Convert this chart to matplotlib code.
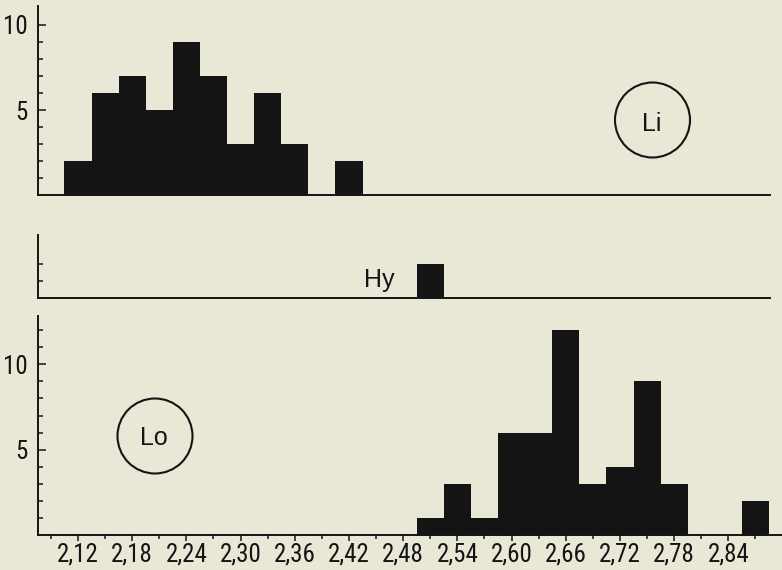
import matplotlib
matplotlib.use("Agg")
import matplotlib.pyplot as plt
from matplotlib import font_manager as fm
from matplotlib.patches import Ellipse
from matplotlib.ticker import FixedLocator

# ---------------- data ----------------
li_centers = [2.12, 2.15, 2.18, 2.21, 2.24, 2.27, 2.30, 2.33, 2.36, 2.39, 2.42]
li_counts = [2, 6, 7, 5, 9, 7, 3, 6, 3, 0, 2]

hy_centers = [2.51]
hy_counts = [2]

lo_centers = [2.51, 2.54, 2.57, 2.60, 2.63, 2.66, 2.69, 2.72, 2.75, 2.78, 2.81, 2.84, 2.87]
lo_counts = [1, 3, 1, 6, 6, 12, 3, 4, 9, 3, 0, 0, 2]

bin_width = 0.03
x_ticks_major = [2.12, 2.18, 2.24, 2.30, 2.36, 2.42, 2.48, 2.54, 2.60, 2.66, 2.72, 2.78, 2.84]
x_tick_labels = ["2,12", "2,18", "2,24", "2,30", "2,36", "2,42", "2,48", "2,54",
                 "2,60", "2,66", "2,72", "2,78", "2,84"]
x_ticks_minor = [2.09, 2.15, 2.21, 2.27, 2.33, 2.39, 2.45, 2.51, 2.57, 2.63, 2.69,
                 2.75, 2.81, 2.87]
y_major = [5, 10]
y_minor_li = [1, 2, 3, 4, 6, 7, 8, 9]
y_minor_hy = [1, 2]
y_minor_lo = [1, 2, 3, 4, 6, 7, 8, 9, 11, 12]

# ---------------- fonts ----------------
names = {f.name for f in fm.fontManager.ttflist}
def pick(cands):
    for c in cands:
        if c in names:
            return c
    return "DejaVu Sans"
num_font = pick(["Liberation Sans Narrow", "Roboto Condensed", "Open Sans Condensed", "DejaVu Sans"])
txt_font = pick(["Liberation Sans", "DejaVu Sans"])

W, H = 782, 570
BG = "#e9e7d5"
INK = "#141414"
NUM_SIZE = 18
TXT_SIZE = 18
fig = plt.figure(figsize=(W / 100, H / 100), dpi=100, facecolor=BG)

x_left, x_right = 2.0757, 2.8994
x_base_end = 2.886

def px_axes(top_px, bottom_px):
    return fig.add_axes([38 / W, (H - bottom_px) / H, (W - 38) / W, (bottom_px - top_px) / H])

def style(ax, ymax, majors, minors, base_end=None):
    ax.set_facecolor("none")
    ax.set_xlim(x_left, x_right)
    ax.set_ylim(0, ymax)
    for s in ("top", "right"):
        ax.spines[s].set_visible(False)
    for s in ("left", "bottom"):
        ax.spines[s].set_linewidth(1.4)
        ax.spines[s].set_color(INK)
    if base_end is not None:
        ax.spines["bottom"].set_bounds(x_left, base_end)
    ax.yaxis.set_major_locator(FixedLocator(majors))
    ax.yaxis.set_minor_locator(FixedLocator(minors))
    ax.tick_params(axis="y", which="major", direction="in", length=5.5, width=1.1,
                   color=INK, pad=7.5, labelsize=NUM_SIZE, labelcolor=INK)
    ax.tick_params(axis="y", which="minor", direction="in", length=3.3, width=1.1, color=INK)

# top panel (Li)
ax1 = px_axes(6, 195)
ax1.bar(li_centers, li_counts, width=bin_width, color=INK, linewidth=0, align="center")
style(ax1, 189 / 17.0, y_major, y_minor_li, x_base_end)
ax1.set_xticks([])
ax1.set_yticklabels(["5", "10"], fontfamily=num_font)

# middle panel (Hy)
ax2 = px_axes(235, 297.5)
ax2.bar(hy_centers, hy_counts, width=bin_width, color=INK, linewidth=0, align="center")
style(ax2, 62.5 / 17.0, [], y_minor_hy, x_base_end)
ax2.set_xticks([])

# bottom panel (Lo)
ax3 = px_axes(316.5, 535)
ax3.bar(lo_centers, lo_counts, width=bin_width, color=INK, linewidth=0, align="center")
style(ax3, 218.5 / 17.07, y_major, y_minor_lo)
ax3.set_yticklabels(["5", "10"], fontfamily=num_font)
ax3.xaxis.set_major_locator(FixedLocator(x_ticks_major))
ax3.xaxis.set_minor_locator(FixedLocator(x_ticks_minor))
ax3.set_xticklabels(x_tick_labels, fontfamily=num_font)
ax3.tick_params(axis="x", which="major", direction="out", length=4.5, width=1.1,
                color=INK, pad=1.0, labelsize=NUM_SIZE, labelcolor=INK)
ax3.tick_params(axis="x", which="minor", direction="out", length=3.0, width=1.1, color=INK)

# labels and circles
def fx(px):
    return px / W
def fy(py):
    return (H - py) / H

fig.text(fx(379), fy(287), "Hy", ha="center", va="baseline", fontsize=TXT_SIZE,
         fontfamily=txt_font, color=INK)
fig.text(fx(652), fy(131), "Li", ha="center", va="baseline", fontsize=TXT_SIZE,
         fontfamily=txt_font, color=INK)
fig.text(fx(154), fy(445), "Lo", ha="center", va="baseline", fontsize=TXT_SIZE,
         fontfamily=txt_font, color=INK)

for cx, cy in [(652.5, 120), (155, 436)]:
    e = Ellipse((fx(cx), fy(cy)), 75 / W, 75 / H, transform=fig.transFigure,
                fill=False, edgecolor=INK, linewidth=1.5)
    fig.add_artist(e)

fig.savefig("out.png", dpi=100, facecolor=BG)
